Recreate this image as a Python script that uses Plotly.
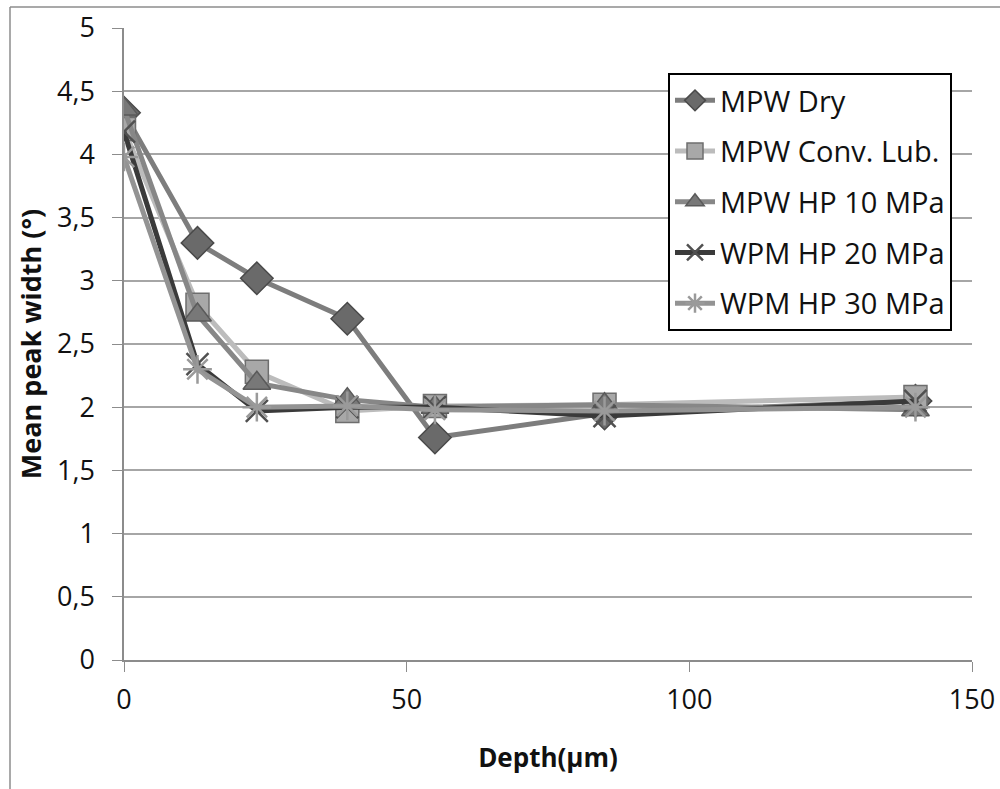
import plotly.graph_objects as go

depth = [0, 13, 23.5, 39.5, 55, 85, 140]
mpw_dry = [4.33, 3.30, 3.02, 2.70, 1.76, 1.95, 2.05]
mpw_conv = [4.20, 2.81, 2.28, 1.97, 2.01, 2.02, 2.08]
mpw_hp10 = [4.36, 2.73, 2.19, 2.06, 2.00, 2.02, 1.98]
wpm_hp20 = [4.18, 2.34, 1.97, 2.00, 2.00, 1.93, 2.05]
wpm_hp30 = [3.98, 2.30, 2.00, 2.01, 1.98, 1.97, 2.00]

names = ["MPW Dry", "MPW Conv. Lub.", "MPW HP 10 MPa", "WPM HP 20 MPa", "WPM HP 30 MPa"]
series = [mpw_dry, mpw_conv, mpw_hp10, wpm_hp20, wpm_hp30]

ytickvals = [0, 0.5, 1, 1.5, 2, 2.5, 3, 3.5, 4, 4.5, 5]
yticktext = ["0", "0,5", "1", "1,5", "2", "2,5", "3", "3,5", "4", "4,5", "5"]
xtickvals = [0, 50, 100, 150]

styles = [
    dict(line="#7d7d7d", mk="#6a6a6a", mkline="#4a4a4a", symbol="diamond", size=25, lw=1.5),
    dict(line="#bcbcbc", mk="#a8a8a8", mkline="#6e6e6e", symbol="square", size=23, lw=1.5),
    dict(line="#878787", mk="#787878", mkline="#5a5a5a", symbol="triangle-up", size=24, lw=1.5),
    dict(line="#3a3a3a", mk="#505050", mkline="#505050", symbol="x-thin", size=22, lw=2.5),
    dict(line="#939393", mk="#bdbdbd", mkline="#9a9a9a", symbol="asterisk", size=24, lw=2.5),
]

fig = go.Figure()
for i, (nm, ys, st) in enumerate(zip(names, series, styles)):
    fig.add_trace(go.Scatter(
        x=depth, y=ys, name=nm, mode="lines+markers",
        legendgroup=f"g{i}",
        line=dict(color=st["line"], width=5),
        marker=dict(symbol=st["symbol"], size=st["size"], color=st["mk"],
                    line=dict(color=st["mkline"], width=st["lw"])),
    ))

# page body margin is removed by post_script, so figure sits at (0, 0)
W, H = 1000, 789
L, T = 124, 28
R = W - 972
B = H - 660
pw, ph = W - L - R, H - T - B


def px_x(x):
    return (x - L) / pw


def px_y(y):
    return (H - B - y) / ph


fig.update_layout(
    width=W, height=H,
    margin=dict(l=L, r=R, t=T, b=B, autoexpand=False),
    paper_bgcolor="white", plot_bgcolor="white",
    font=dict(family="Open Sans", size=26, color="#111111"),
    showlegend=True,
    legend=dict(
        x=px_x(668), y=px_y(73), xanchor="left", yanchor="top",
        bordercolor="#000000", borderwidth=2, bgcolor="white",
        font=dict(family="Open Sans", size=29, color="#111111"),
        traceorder="grouped", tracegroupgap=10,
        itemwidth=40,
    ),
    xaxis=dict(
        range=[0, 150], tickvals=xtickvals, showgrid=False, zeroline=False,
        automargin=False,
        showline=True, linecolor="#8c8c8c", linewidth=1.5,
        ticks="outside", ticklen=10, tickcolor="#8c8c8c",
        ticklabelstandoff=5,
        tickfont=dict(family="Open Sans", size=27, color="#111111"),
        title=dict(text="<b>Depth(µm)</b>", font=dict(family="Open Sans", size=26, color="#111111"), standoff=33),
    ),
    yaxis=dict(
        range=[0, 5], tickvals=ytickvals, ticktext=yticktext,
        automargin=False,
        showgrid=True, gridcolor="#a6a6a6", gridwidth=1.5, zeroline=False,
        showline=True, linecolor="#8c8c8c", linewidth=1.5,
        ticks="outside", ticklen=10, tickcolor="#8c8c8c",
        ticklabelstandoff=12,
        tickfont=dict(family="Open Sans", size=27, color="#111111"),
        title=dict(text="<b>Mean peak width (°)</b>", font=dict(family="Open Sans", size=27, color="#111111"), standoff=8),
    ),
    shapes=[
        dict(type="line", xref="paper", yref="paper",
             x0=px_x(10), x1=px_x(1010), y0=px_y(7), y1=px_y(7),
             line=dict(color="#8c8c8c", width=1.5)),
        dict(type="line", xref="paper", yref="paper",
             x0=px_x(10), x1=px_x(10), y0=px_y(7), y1=px_y(800),
             line=dict(color="#8c8c8c", width=1.5)),
    ],
)

fig.write_html(
    "out.html",
    config={"displayModeBar": False},
    post_script="document.body.style.margin='0';document.body.style.overflow='hidden';",
)
